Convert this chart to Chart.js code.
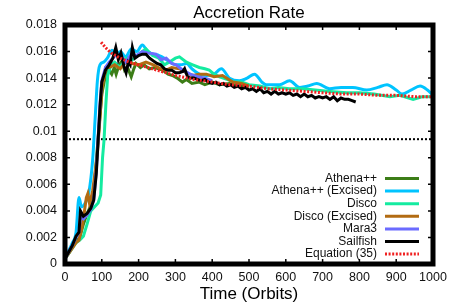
<!DOCTYPE html>
<html>
<head>
<meta charset="utf-8">
<script src="https://cdn.jsdelivr.net/npm/chart.js@4/dist/chart.umd.min.js"></script>
<style>
html,body{margin:0;padding:0;background:#fff;}
#wrap{width:457px;height:305px;position:relative;}
</style>
</head>
<body>
<div id="wrap"><canvas id="c" width="457" height="305"></canvas></div>
<script>
// ---- Data ----
const chartTitle = 'Accretion Rate';
const xTicks = [0,100,200,300,400,500,600,700,800,900,1000];
const yTicks = [0,0.002,0.004,0.006,0.008,0.01,0.012,0.014,0.016,0.018];

const athenaT = [0,10,20,30,40,50,60,70,80,90,100,110,120,127,134,139,147,155,162,170,180,187,193,205,215,229,245,265,280,292,305,319,330,345,365,380,400,420,447,470,500];
const athenaV = [0.0004,0.0008,0.0013,0.0017,0.0020,0.0030,0.0038,0.0044,0.0060,0.0095,0.0128,0.0142,0.0146,0.0143,0.0148,0.0143,0.0150,0.0153,0.0146,0.0148,0.0141,0.0147,0.0151,0.0148,0.0150,0.0147,0.0148,0.0146,0.0143,0.0142,0.0140,0.0137,0.0139,0.0136,0.0137,0.0135,0.0137,0.0135,0.0136,0.0134,0.0134];

const athenaExT = [0,10,20,30,38,45,55,65,75,82,88,95,105,115,128,140,150,165,180,195,210,225,240,256,270,285,302,315,330,345,365,385,405,425,447,474,495,515,535,547,583,610,638,660,684,719,750,782,820,850,875,900,916,940,965,985,1000];
const athenaExV = [0.0005,0.0010,0.0016,0.0024,0.0050,0.0043,0.0046,0.0054,0.0078,0.0110,0.0138,0.0150,0.0152,0.0155,0.0161,0.0158,0.0160,0.0156,0.0162,0.0160,0.0165,0.0160,0.0158,0.0157,0.0155,0.0152,0.0150,0.0150,0.0151,0.0147,0.0143,0.0142,0.0143,0.0147,0.0140,0.0138,0.0140,0.0143,0.0137,0.0135,0.0135,0.0138,0.0133,0.0134,0.0136,0.0132,0.0133,0.0133,0.0131,0.0133,0.0135,0.0131,0.0128,0.0131,0.0134,0.0131,0.0127];

const discoT = [0,10,20,30,40,50,60,70,80,90,97,102,106,111,116,125,135,150,165,180,195,210,220,238,255,270,283,300,311,330,347,365,380,392,405,420,440,460,480,500,530,556,580,610,646,680,720,765,800,840,883,910,946,970,1000];
const discoV = [0.0004,0.0008,0.0012,0.0016,0.0018,0.0021,0.0030,0.0040,0.0043,0.0046,0.0052,0.0080,0.0093,0.0120,0.0142,0.0150,0.0152,0.0148,0.0155,0.0153,0.0157,0.0160,0.0162,0.0157,0.0155,0.0150,0.0152,0.0155,0.0156,0.0152,0.0150,0.0148,0.0147,0.0146,0.0143,0.0141,0.0139,0.0137,0.0137,0.0135,0.0134,0.0132,0.0133,0.0132,0.0132,0.0131,0.0130,0.0129,0.0129,0.0128,0.0126,0.0127,0.0124,0.0126,0.0126];

const discoExT = [0,10,20,30,38,45,52,58,62,67,75,87,95,101,111,120,135,150,165,183,200,220,240,260,275,290,311,330,347,365,384,405,428,456,480,500];
const discoExV = [0.0004,0.0008,0.0012,0.0016,0.0018,0.0026,0.0038,0.0050,0.0053,0.0045,0.0055,0.0080,0.0110,0.0133,0.0148,0.0148,0.0150,0.0147,0.0152,0.0151,0.0150,0.0152,0.0150,0.0147,0.0146,0.0148,0.0147,0.0144,0.0142,0.0143,0.0143,0.0141,0.0142,0.0137,0.0136,0.0134];

const mara3T = [0,10,20,30,38,42,50,60,70,78,85,90,95,100,110,120,130,140,152,165,180,195,210,225,247,262,275,290,302,320,340,360,380,400];
const mara3V = [0.0004,0.0009,0.0014,0.0020,0.0024,0.0036,0.0034,0.0037,0.0041,0.0048,0.0070,0.0095,0.0120,0.0138,0.0148,0.0152,0.0155,0.0158,0.0157,0.0152,0.0158,0.0157,0.0160,0.0159,0.0158,0.0154,0.0155,0.0151,0.0150,0.0146,0.0143,0.0141,0.0140,0.0138];

const sailfishT = [0,10,20,30,38,42,50,60,70,78,85,90,95,100,110,120,130,138,145,152,160,166,172,177,183,190,200,210,220,230,240,250,260,270,280,290,300,310,320,325,333,340,350,360,370,380,390,400,410,420,430,440,450,460,470,480,490,500,510,520,530,540,550,560,570,580,590,600,610,620,630,640,650,660,670,680,690,700,710,720,730,740,750,760,770,780,790];
const sailfishV = [0.0004,0.0009,0.0014,0.0021,0.0024,0.0040,0.0036,0.0038,0.0042,0.0048,0.0068,0.0093,0.0118,0.0137,0.0146,0.0150,0.0155,0.0163,0.0154,0.0159,0.0149,0.0144,0.0152,0.0150,0.0163,0.0155,0.0157,0.0158,0.0158,0.0155,0.0153,0.0151,0.0150,0.0147,0.0146,0.0146,0.0144,0.0144,0.0145,0.0147,0.0141,0.0140,0.0140,0.0139,0.0138,0.0139,0.0137,0.0136,0.0137,0.0135,0.0136,0.0134,0.0135,0.0133,0.0134,0.0132,0.0133,0.0131,0.0132,0.0130,0.0132,0.0129,0.0130,0.0128,0.0130,0.0128,0.0129,0.0128,0.0129,0.0127,0.0128,0.0126,0.0128,0.0126,0.0127,0.0125,0.0126,0.0125,0.0126,0.0124,0.0126,0.0123,0.0125,0.0124,0.0124,0.0123,0.0122];

const equationT = [98,110,125,150,175,200,250,300,350,400,450,500,550,600,650,700,750,800,850,900,950,1000];
const equationV = [0.0167,0.0163,0.0159,0.0155,0.0152,0.0150,0.0146,0.0142,0.0139,0.0137,0.0135,0.0134,0.0132,0.0131,0.0130,0.0129,0.0128,0.0128,0.0127,0.0127,0.0126,0.0126];

const refLineT = [0,1000];
const refLineV = [0.0094,0.0094];

const seriesLabels = ['Athena++','Athena++ (Excised)','Disco','Disco (Excised)','Mara3','Sailfish','Equation (35)'];

// ---- Build ----
const pts = (t,v)=>t.map((x,i)=>({x:x,y:v[i]}));
const FONT = '"Liberation Sans", Arial, Helvetica, sans-serif';

function ds(label, t, v, color, order, extra){
  return Object.assign({label:label, data:pts(t,v), borderColor:color, backgroundColor:color,
    borderWidth:3, pointRadius:0, tension:0, fill:false, order:order, showLine:true}, extra||{});
}

const datasets = [
  ds(seriesLabels[0], athenaT, athenaV, '#3c7d17', 6),
  ds(seriesLabels[1], athenaExT, athenaExV, '#00c4ff', 5, {cubicInterpolationMode:'monotone', tension:0.4}),
  ds(seriesLabels[2], discoT, discoV, '#14eba0', 4),
  ds(seriesLabels[3], discoExT, discoExV, '#b26b12', 3),
  ds(seriesLabels[4], mara3T, mara3V, '#6b6bff', 2),
  ds(seriesLabels[5], sailfishT, sailfishV, '#000000', 1),
  ds(seriesLabels[6], equationT, equationV, '#f02020', 0, {borderDash:[2,1.6], borderWidth:3, borderCapStyle:'butt'}),
  ds('', refLineT, refLineV, '#000000', 7, {borderDash:[2,2], borderWidth:2, isRef:true})
];

const framePlugin = {
  id:'frame',
  afterDraw(chart){
    const {ctx, chartArea:a, scales} = chart;
    ctx.save();
    // inward tick marks on all sides
    ctx.strokeStyle = '#000'; ctx.lineWidth = 1.5;
    const L = 5;
    scales.x.ticks.forEach(t=>{
      const px = scales.x.getPixelForValue(t.value);
      ctx.beginPath(); ctx.moveTo(px,a.bottom); ctx.lineTo(px,a.bottom-L);
      ctx.moveTo(px,a.top); ctx.lineTo(px,a.top+L); ctx.stroke();
    });
    scales.y.ticks.forEach(t=>{
      const py = scales.y.getPixelForValue(t.value);
      ctx.beginPath(); ctx.moveTo(a.left,py); ctx.lineTo(a.left+L,py);
      ctx.moveTo(a.right,py); ctx.lineTo(a.right-L,py); ctx.stroke();
    });
    // thick border
    ctx.lineWidth = 5;
    ctx.strokeRect(a.left, a.top, a.right-a.left, a.bottom-a.top);
    // title centred over the plot area
    ctx.fillStyle = '#000';
    ctx.font = '17px ' + FONT;
    ctx.textAlign = 'center'; ctx.textBaseline = 'middle';
    ctx.fillText(chartTitle, (a.left+a.right)/2, 13.5);
    // legend (text right-aligned, sample on the right)
    ctx.font = '12px ' + FONT;
    ctx.textAlign = 'right'; ctx.textBaseline = 'middle';
    const textRight = 377, x0 = 385, x1 = 419;
    let y = 178.5;
    chart.data.datasets.forEach(d=>{
      if (d.isRef) return;
      ctx.fillStyle = '#111';
      ctx.fillText(d.label, textRight, y);
      ctx.strokeStyle = d.borderColor; ctx.lineWidth = 3;
      ctx.setLineDash(d.borderDash || []);
      ctx.beginPath(); ctx.moveTo(x0, y); ctx.lineTo(x1, y); ctx.stroke();
      ctx.setLineDash([]);
      y += 12.6;
    });
    ctx.restore();
  }
};

new Chart(document.getElementById('c'), {
  type:'line',
  data:{datasets:datasets},
  options:{
    responsive:false, animation:false,
    layout:{padding:{left:0,right:24,top:25,bottom:0}},
    plugins:{
      legend:{display:false},
      tooltip:{enabled:false},
      title:{display:false}
    },
    scales:{
      x:{type:'linear', min:0, max:1000,
        afterBuildTicks:(s)=>{ s.ticks = xTicks.map(v=>({value:v})); },
        afterFit:(s)=>{ s.height = 41; },
        grid:{display:false, drawTicks:false}, border:{display:false},
        ticks:{color:'#111', font:{family:FONT,size:12.5}, padding:6, maxRotation:0, autoSkip:false,
          callback:(v)=>String(v)},
        title:{display:true, text:'Time (Orbits)', color:'#000', font:{family:FONT,size:17}, padding:{top:0,bottom:0}}
      },
      y:{type:'linear', min:0, max:0.018,
        afterBuildTicks:(s)=>{ s.ticks = yTicks.map(v=>({value:v})); },
        afterFit:(s)=>{ s.width = 65; },
        grid:{display:false, drawTicks:false}, border:{display:false},
        ticks:{color:'#111', font:{family:FONT,size:12.5}, padding:8, autoSkip:false,
          callback:(v)=>String(Number(v.toFixed(3)))}
      }
    }
  },
  plugins:[framePlugin]
});
</script>
</body>
</html>
